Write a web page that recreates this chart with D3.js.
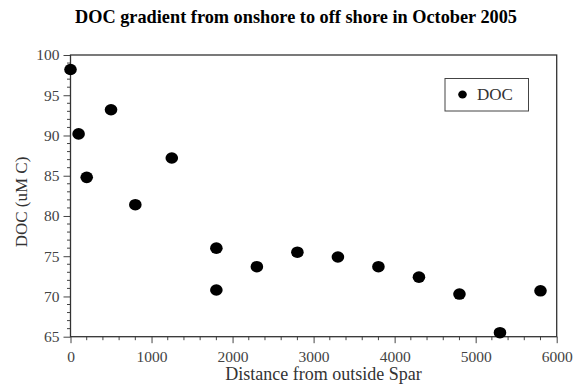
<!DOCTYPE html>
<html><head><meta charset="utf-8">
<script src="https://cdn.jsdelivr.net/npm/d3@7"></script>
<style>body{margin:0;background:#fff}svg{display:block}</style>
</head><body>
<svg id="c" width="575" height="386"></svg>
<script>
const distance = [0, 100, 200, 500, 800, 1250, 1800, 1800, 2300, 2800, 3300, 3800, 4300, 4800, 5300, 5800];
const doc      = [98.2, 90.2, 84.8, 93.2, 81.4, 87.2, 76.0, 70.8, 73.7, 75.5, 74.9, 73.7, 72.4, 70.3, 65.5, 70.7];
const xTicks = [0, 1000, 2000, 3000, 4000, 5000, 6000];
const yTicks = [65, 70, 75, 80, 85, 90, 95, 100];
const title = "DOC gradient from onshore to off shore in October 2005";
const xLabel = "Distance from outside Spar";
const yLabel = "DOC (uM C)";
const legendLabel = "DOC";

const svg = d3.select("#c");
const m = {l: 70.5, r: 556.7, t: 55, b: 336.7};
const x = d3.scaleLinear().domain([0, 6000]).range([m.l, m.r]);
const y = d3.scaleLinear().domain([65, 100]).range([m.b, m.t]);
const font = "'Liberation Serif', 'Times New Roman', serif";
const tickCol = "#444";

// minor ticks
const xMinor = d3.range(0, 6001, 200).filter(v => v % 1000 !== 0);
const yMinor = d3.range(65, 100.01, 1).filter(v => v % 5 !== 0);
svg.append("g").selectAll("line").data(xMinor).join("line")
  .attr("x1", d => x(d)).attr("x2", d => x(d)).attr("y1", m.b).attr("y2", m.b + 3.5)
  .attr("stroke", tickCol).attr("stroke-width", 1);
svg.append("g").selectAll("line").data(yMinor).join("line")
  .attr("y1", d => y(d)).attr("y2", d => y(d)).attr("x1", m.l).attr("x2", m.l - 3.5)
  .attr("stroke", tickCol).attr("stroke-width", 1);

// axes
const xAxis = svg.append("g").attr("transform", `translate(0,${m.b})`)
  .call(d3.axisBottom(x).tickValues(xTicks).tickFormat(d3.format("d")).tickSize(6.5).tickPadding(8));
const yAxis = svg.append("g").attr("transform", `translate(${m.l},0)`)
  .call(d3.axisLeft(y).tickValues(yTicks).tickFormat(d3.format("d")).tickSize(7).tickPadding(4));
[xAxis, yAxis].forEach(a => {
  a.select(".domain").remove();
  a.selectAll(".tick line").attr("stroke", tickCol);
  a.selectAll(".tick text").attr("fill", tickCol).style("font-family", font).style("font-size", "15.5px");
});

// frame
svg.append("rect").attr("x", m.l).attr("y", m.t).attr("width", m.r - m.l).attr("height", m.b - m.t)
  .attr("fill", "none").attr("stroke", "#333").attr("stroke-width", 1.3);

// points
svg.append("g").selectAll("ellipse").data(distance.map((d, i) => [d, doc[i]])).join("ellipse")
  .attr("cx", d => x(d[0])).attr("cy", d => y(d[1])).attr("rx", 6.3).attr("ry", 5.8).attr("fill", "#000");

// title
svg.append("text").attr("x", 296).attr("y", 22.5).attr("text-anchor", "middle")
  .style("font-family", font).style("font-weight", "bold").style("font-size", "18.3px").attr("fill", "#000").text(title);

// axis labels
svg.append("text").attr("x", (m.l + m.r) / 2 + 10).attr("y", 380).attr("text-anchor", "middle")
  .style("font-family", font).style("font-size", "18px").attr("fill", "#333").text(xLabel);
svg.append("text").attr("transform", "translate(27,202) rotate(-90)").attr("text-anchor", "middle")
  .style("font-family", font).style("font-size", "17px").attr("fill", "#333").text(yLabel);

// legend
const lg = svg.append("g");
lg.append("rect").attr("x", 445).attr("y", 78.5).attr("width", 83.5).attr("height", 32.5)
  .attr("fill", "#fff").attr("stroke", "#444").attr("stroke-width", 1);
lg.append("ellipse").attr("cx", 462.5).attr("cy", 94.5).attr("rx", 4.3).attr("ry", 4).attr("fill", "#000");
lg.append("text").attr("x", 477).attr("y", 100)
  .style("font-family", font).style("font-size", "17px").attr("fill", "#333").text(legendLabel);
</script>
</body></html>
